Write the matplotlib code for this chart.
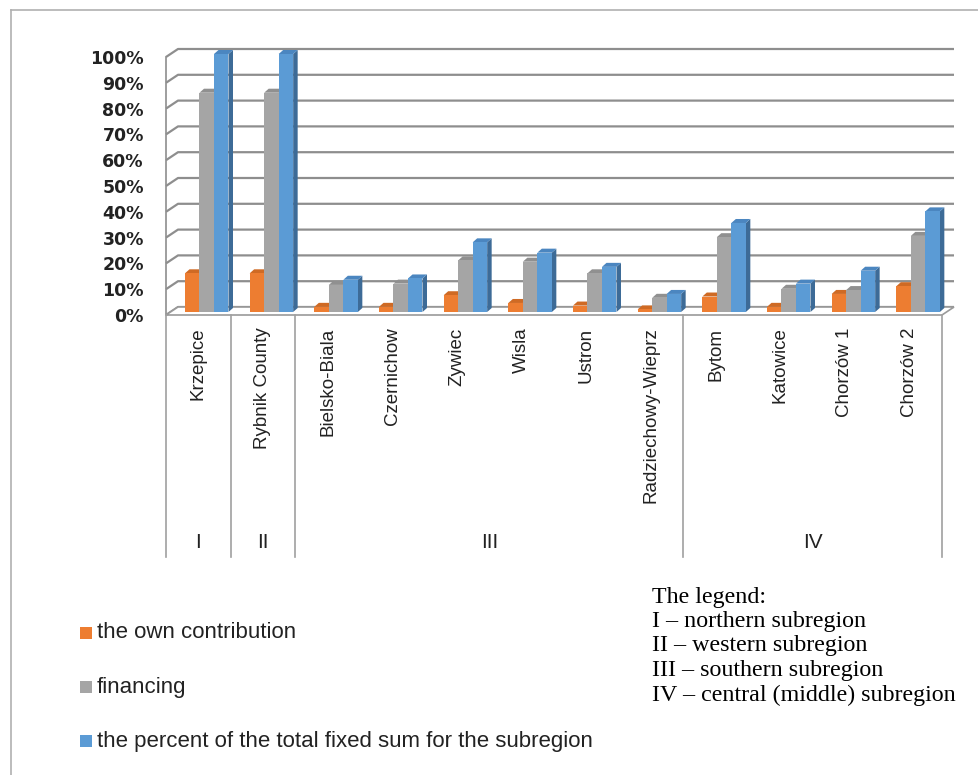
import numpy as np
import matplotlib
matplotlib.use('Agg')
import matplotlib.pyplot as plt
from matplotlib.patches import Polygon, Rectangle
from matplotlib.lines import Line2D
from matplotlib.transforms import ScaledTranslation

# data (percent)
places = ['Krzepice', 'Rybnik County', 'Bielsko-Biala', 'Czernichow', 'Zywiec', 'Wisla',
          'Ustron', 'Radziechowy-Wieprz', 'Bytom', 'Katowice', 'Chorzów 1', 'Chorzów 2']
own_contribution = [15, 15, 2, 2, 6.5, 3.5, 2.5, 1, 6, 2, 7, 10]
financing = [85, 85, 10.5, 11, 20, 19.5, 15, 5.5, 29, 9, 8.5, 29.5]
percent_of_total = [100, 100, 12.5, 13, 27, 23, 17.5, 7, 34.5, 11, 16, 39]

series_names = ['the own contribution', 'financing',
                'the percent of the total fixed sum for the subregion']
subregions = ['I', 'II', 'III', 'IV']
subregion_bounds = [0, 1, 2, 8, 12]
legend_lines = ['The legend:', 'I – northern subregion', 'II – western subregion',
                'III – southern subregion', 'IV – central (middle) subregion']

front_cols = ['#ED7D31', '#A5A5A5', '#5B9BD5']
side_cols = ['#B4601F', '#7C7C7C', '#3D6B97']
top_cols = ['#CF6A24', '#909090', '#4B86C0']

W, H = 979, 775
fig = plt.figure(figsize=(W / 100, H / 100), dpi=100)


def fx(px):
    return px / W


def fy(py):
    return 1 - py / H


# plot box in pixels (front plane)
L, R, B, T = 166, 942, 315, 57
ax = fig.add_axes([fx(L), fy(B), (R - L) / W, (B - T) / H])
ax.set_xlim(0, 12)
ax.set_ylim(0, 100)
ux = (R - L) / 12.0   # px per category
uy = (B - T) / 100.0  # px per percent

grid_col = '#8E8E8E'
# back wall depth
WX, WY = 12 / ux, 8 / uy
for v in range(0, 101, 10):
    ax.plot([0, WX, 12 + WX], [v, v + WY, v + WY], color=grid_col, lw=1.6,
            clip_on=False, zorder=1, solid_capstyle='butt')
ax.plot([0, 0], [0, 100], color=grid_col, lw=1.2, clip_on=False, zorder=1)

# floor
floor = Polygon([(0, 0), (12, 0), (12 + WX, WY), (WX, WY)], closed=True,
                facecolor='white', edgecolor='#9A9A9A', lw=1.2, clip_on=False, zorder=1.5)
ax.add_patch(floor)

# bars with fake depth
shift = ax.transData + ScaledTranslation(4 / 100, 3 / 100, fig.dpi_scale_trans)
bw = 14.5 / ux
start = 15 / ux
dbx, dby = 4.5 / ux, 4 / uy
all_series = [own_contribution, financing, percent_of_total]
for i in range(len(places)):
    for j, vals in enumerate(all_series):
        v = vals[i]
        x0 = i + start + j * bw
        x1 = x0 + bw
        z = 3 + i * 0.1 + j * 0.01
        side = Polygon([(x1, 0), (x1 + dbx, dby), (x1 + dbx, v + dby), (x1, v)],
                       closed=True, facecolor=side_cols[j], edgecolor='none',
                       transform=shift, clip_on=False, zorder=z)
        top = Polygon([(x0, v), (x1, v), (x1 + dbx, v + dby), (x0 + dbx, v + dby)],
                      closed=True, facecolor=top_cols[j], edgecolor='none',
                      transform=shift, clip_on=False, zorder=z)
        ax.add_patch(side)
        ax.add_patch(top)
        ax.bar(x0, v, width=bw, align='edge', color=front_cols[j], transform=shift,
               clip_on=False, zorder=z + 0.005)

for s in ax.spines.values():
    s.set_visible(False)
ax.set_yticks(range(0, 101, 10))
ax.set_yticklabels([f'{v}%' for v in range(0, 101, 10)], fontsize=12.5, fontweight='bold',
                   color='#222222')
ax.tick_params(axis='y', length=0, pad=16)
ax.set_xticks(np.arange(len(places)) + 0.5)
ax.set_xticklabels(places, rotation=90, fontsize=13.5, family='Liberation Sans',
                   color='#222222')
ax.tick_params(axis='x', length=0, pad=9)

# subregion boxes under the labels
sep_bottom = -(557 - B) / uy
for b in subregion_bounds:
    ax.plot([b, b], [0, sep_bottom], color='#A0A0A0', lw=1.2, clip_on=False)
for k, name in enumerate(subregions):
    xm = (subregion_bounds[k] + subregion_bounds[k + 1]) / 2
    ax.text(xm, -(542 - B) / uy, name, ha='center', va='center', fontsize=15,
            family='Liberation Sans', color='#222222')

# series legend
for j, name in enumerate(series_names):
    yc = 633 + j * 54
    fig.add_artist(Rectangle((fx(80), fy(yc + 6)), 12 / W, 12 / H, transform=fig.transFigure,
                             facecolor=front_cols[j], edgecolor='none'))
    fig.text(fx(97), fy(yc), name, ha='left', va='center', fontsize=16,
             family='Liberation Sans', color='#222222')

# subregion legend
for k, line in enumerate(legend_lines):
    fig.text(fx(652), fy(597 + k * 24.5), line, ha='left', va='center', fontsize=17.3,
             family='Liberation Serif', color='black')

# outer frame
fig.add_artist(Line2D([fx(11), 1], [fy(10), fy(10)], color='#B0B0B0', lw=1.2,
                      transform=fig.transFigure))
fig.add_artist(Line2D([fx(11), fx(11)], [fy(10), 0], color='#B0B0B0', lw=1.2,
                      transform=fig.transFigure))

fig.savefig('out.png', dpi=100)
